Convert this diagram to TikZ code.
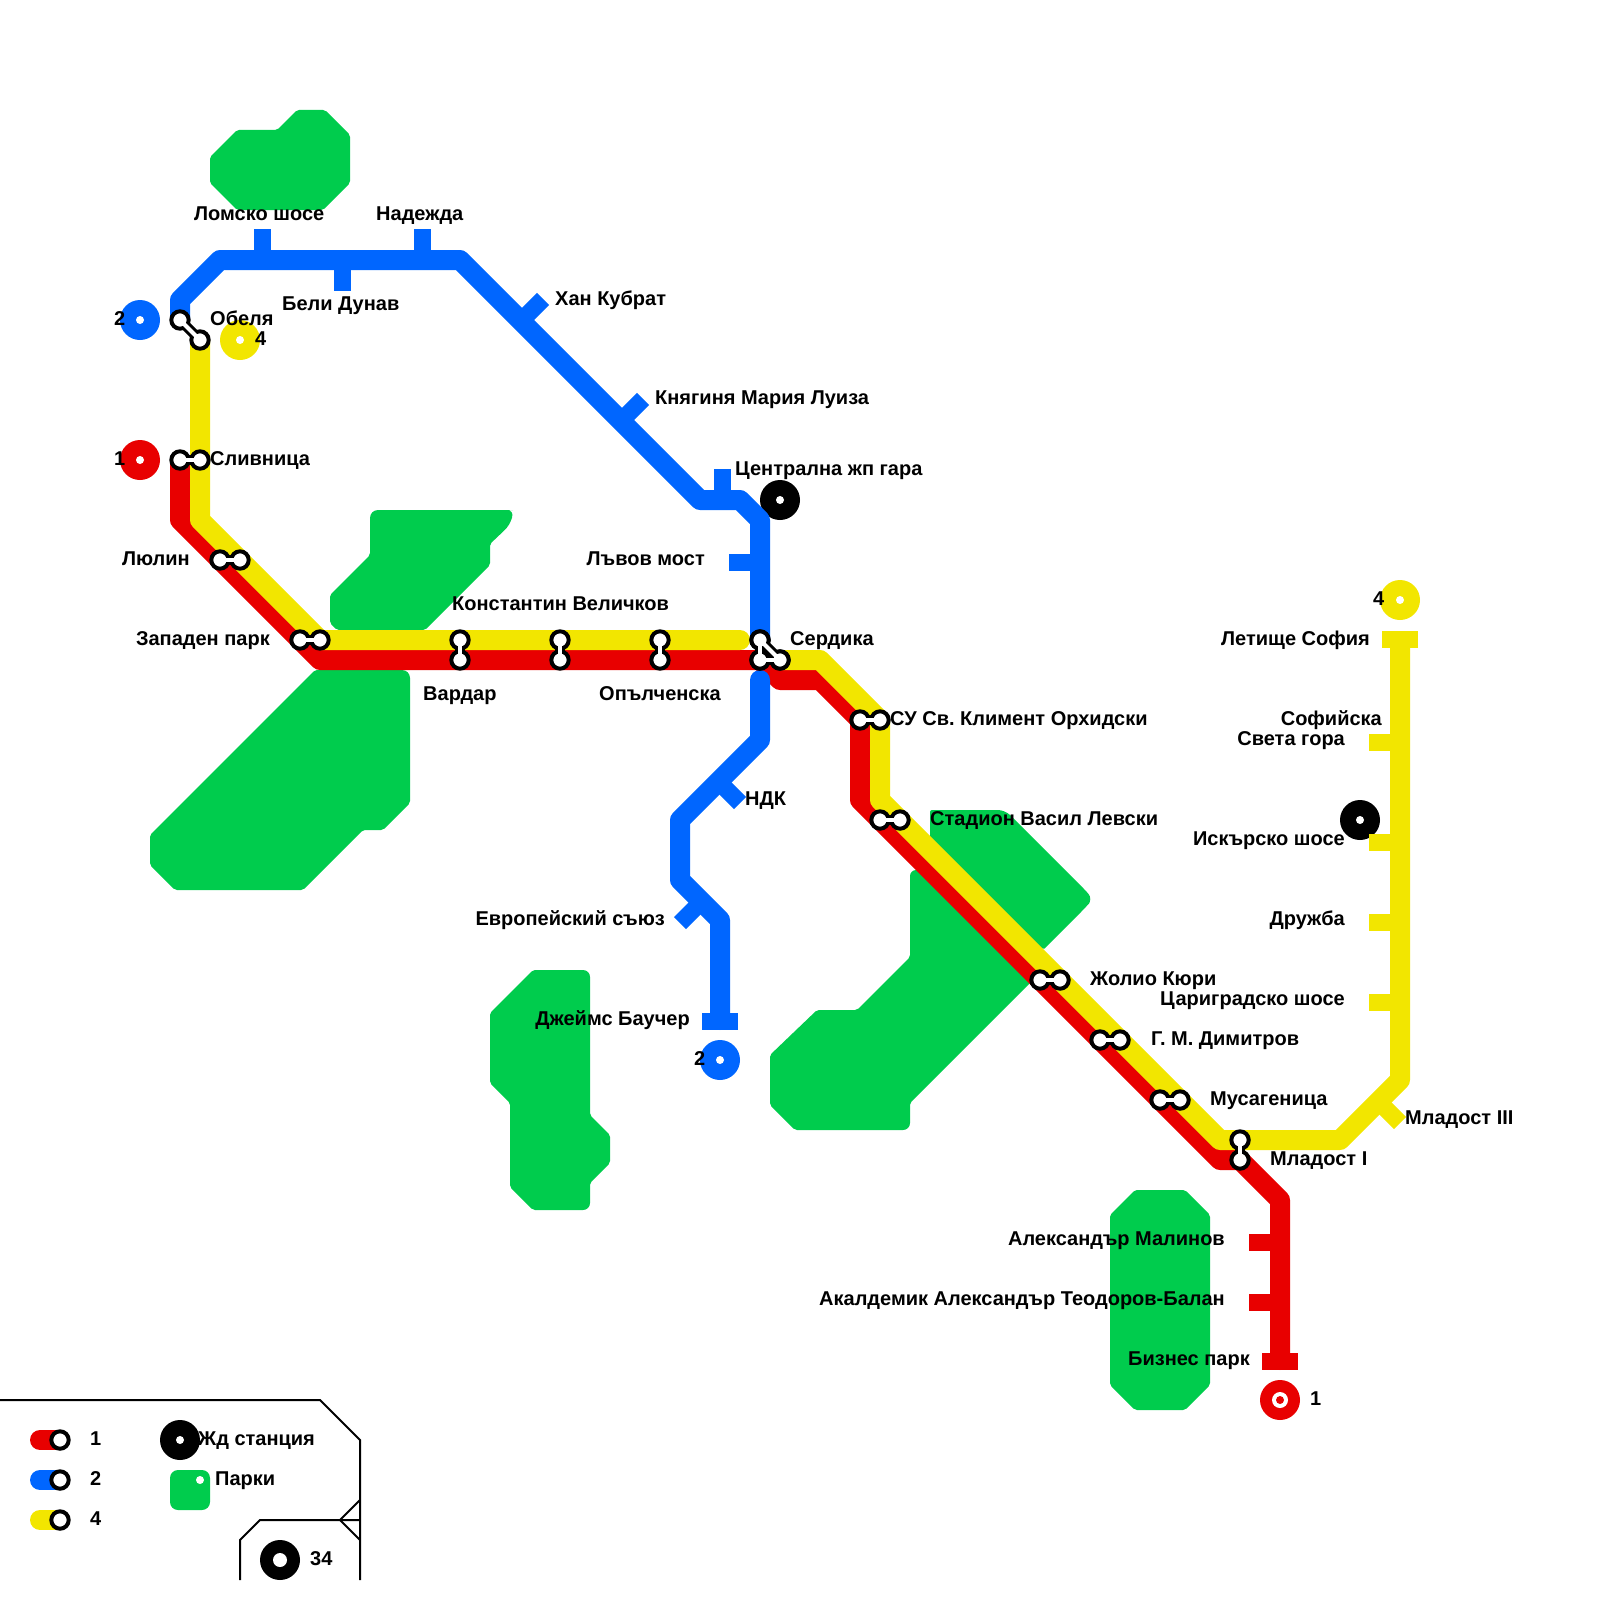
\documentclass[tikz,border=0pt]{standalone}
\usepackage{fontspec}
\setmainfont{Liberation Sans}
\usepackage{tikz}
\definecolor{l1c}{HTML}{E80000}
\definecolor{l2c}{HTML}{0066FF}
\definecolor{l4c}{HTML}{F2E600}
\definecolor{parkc}{HTML}{00CC4D}
\newcommand{\stnpairs}{slivR/slivY,lyulR/lyulY,zapR/zapY,varY/varR,serdY/serdR,oplY/oplR,
  serT/serL,serL/serR,serT/serR,obB/obY,suR/suY,levR/levY,jolR/jolY,dimR/dimY,musR/musY,mlaY/mlaR}
\frenchspacing

\begin{document}
\begin{tikzpicture}[
  x=1pt,y=-1pt,
  route/.style={line width=20pt,line cap=round,line join=round},
  tick/.style={line width=17pt},
  park/.style={fill=parkc,rounded corners=2pt},
  disc/.style={fill=#1},
  linkout/.style={black,line width=10pt},
  linkin/.style={white,line width=4pt},
  ring/.style={draw=black,fill=white,line width=4pt},
  lbl/.style={font=\fontsize{20}{24}\selectfont\bfseries,inner sep=0pt,anchor=base west},
  lblr/.style={lbl,anchor=base east},
  frame/.style={line width=2pt}]
\useasboundingbox (0,0) rectangle (1600,1600);
% parks
\fill[park] (210,157) -- (237,130) -- (277,130) -- (297,110) -- (325,110) -- (350,135) -- (350,183) -- (323,210) -- (237,210) -- (210,183) -- cycle;
\fill[park] (370,530) [rounded corners=8pt] -- (370,510) -- (505,510) [rounded corners=7pt] -- (514,510) -- (510,525) [rounded corners=2pt] -- (490,544) -- (490,565) -- (425,630) -- (337,630) -- (330,623) -- (330,595) -- (370,555) -- cycle;
\fill[park] (315,670) [rounded corners=8pt] -- (410,670) [rounded corners=2pt] -- (410,803) -- (383,830) -- (363,830) -- (303,890) -- (175,890) -- (150,865) -- (150,835) -- cycle;
\fill[park] (533,970) [rounded corners=7pt] -- (590,970) [rounded corners=2pt] -- (590,1115) -- (610,1135) -- (610,1163) -- (590,1183) [rounded corners=7pt] -- (590,1210) [rounded corners=2pt] -- (533,1210) -- (510,1187) -- (510,1103) -- (490,1083) -- (490,1013) -- cycle;
\fill[park] (930,810) [rounded corners=7pt] -- (1005,810) [rounded corners=2pt] -- (1085,890) [rounded corners=7pt] -- (1093,899) -- (1085,908) [rounded corners=2pt] -- (1043,950) -- (930,850) -- cycle;
\fill[park] (910,882) [rounded corners=6pt] -- (910,870) -- (928,870) [rounded corners=2pt] -- (1035,975) -- (1033,980) -- (910,1103) [rounded corners=7pt] -- (910,1130) [rounded corners=2pt] -- (795,1130) -- (770,1105) -- (770,1055) -- (817,1010) -- (857,1010) -- (910,957) -- cycle;
\fill[park] (1135,1190) -- (1185,1190) -- (1210,1215) -- (1210,1385) -- (1185,1410) -- (1135,1410) -- (1110,1385) -- (1110,1215) -- cycle;
% stations and bends
\foreach \name/\x/\y in {obB/180/320,obY/200/340,slivR/180/460,slivY/200/460,lyulR/220/560,lyulY/240/560,
  zapR/300/640,zapY/320/640,varY/460/640,varR/460/660,serdY/560/640,serdR/560/660,oplY/660/640,oplR/660/660,
  serT/760/640,serL/760/660,serR/780/660,suR/860/720,suY/880/720,levR/880/820,levY/900/820,
  jolR/1040/980,jolY/1060/980,dimR/1100/1040,dimY/1120/1040,musR/1160/1100,musY/1180/1100,mlaY/1240/1140,mlaR/1240/1160,
  b1/180/300,b2/220/260,b3/460/260,b4/700/500,b5/740/500,b6/760/520,b7/760/680,b8/760/740,b9/680/820,b10/680/880,b11/720/920,b12/720/1020,
  r1/180/520,r2/320/660,r3/780/680,r4/820/680,r5/860/800,r6/1220/1160,r7/1280/1200,r8/1280/1360,
  y1/200/520,y2/320/640,y3/740/640,y4/820/660,y5/880/800,y6/1220/1140,y7/1340/1140,y8/1400/1080,y9/1400/641}
  \coordinate (\name) at (\x,\y);
% termini
\fill[disc=l2c] (140,320) circle (20pt);
\fill[disc=l4c] (240,340) circle (20pt);
\fill[disc=l1c] (140,460) circle (20pt);
\fill[disc=l2c] (720,1060) circle (20pt);
\fill[disc=l4c] (1400,600) circle (20pt);
\fill[disc=l1c] (1280,1400) circle (20pt);
\fill[disc=black] (780,500) circle (20pt);
\fill[disc=black] (1360,820) circle (20pt);
\fill[white] (1280,1400) circle (8pt);
\fill[l1c] (1280,1400) circle (4pt);
\foreach \x/\y in {140/320,240/340,140/460,720/1060,1400/600,780/500,1360/820}
  \fill[white] (\x,\y) circle (4pt);
% lines
\draw[route,l1c] (slivR) -- (r1) -- (r2) -- (serL) -- (r3) -- (r4) -- (suR) -- (r5) -- (r6) -- (mlaR) -- (r7) -- (r8);
\draw[route,l2c] (obB) -- (b1) -- (b2) -- (b3) -- (b4) -- (b5) -- (b6) -- (serT);
\draw[route,l2c] (b7) -- (b8) -- (b9) -- (b10) -- (b11) -- (b12);
\draw[route,l4c] (obY) -- (y1) -- (y2) -- (y3);
\draw[route,l4c] (serR) -- (y4) -- (suY) -- (y5) -- (y6) -- (y7) -- (y8) -- (y9);
% ticks
\foreach \p/\q in {262/229,422/229,342/291}
  \draw[tick,l2c] (\p,260) -- (\p,\q);
\draw[tick,l2c] (521,321) -- (543,299);
\draw[tick,l2c] (621,421) -- (643,399);
\draw[tick,l2c] (722,500) -- (722,469);
\draw[tick,l2c] (760,562) -- (729,562);
\draw[tick,l2c] (718,781) -- (740,803);
\draw[tick,l2c] (702,901) -- (680,923);
\draw[tick,l2c] (702,1021.5) -- (738,1021.5);
\foreach \q in {1242.5,1302.5}
  \draw[tick,l1c] (1280,\q) -- (1249,\q);
\draw[tick,l1c] (1262,1361.5) -- (1298,1361.5);
\draw[tick,l4c] (1382,639) -- (1418,639);
\foreach \q in {742,842,922.5,1002}
  \draw[tick,l4c] (1400,\q) -- (1369,\q);
\draw[tick,l4c] (1378,1101) -- (1400,1123);
% interchanges
\foreach \a/\b in \stnpairs
  \draw[linkout] (\a) -- (\b);
\foreach \a/\b in \stnpairs
  \draw[ring] (\a) circle (8.7pt) (\b) circle (8.7pt);
\foreach \a/\b in \stnpairs
  \draw[linkin] (\a) -- (\b);
% labels
\node[lbl] (lomsko) at (194,220) {Ломско шосе};
\node[lbl] (nadezhda) at (376,220) {Надежда};
\node[lbl] (beli) at (282,310) {Бели Дунав};
\node[lbl] (obelya) at (210,325) {Обеля};
\node[lbl] (n2a) at (114,325) {2};
\node[lbl] (n4a) at (255,345) {4};
\node[lbl] (n1a) at (114,465) {1};
\node[lbl] (slivnitsa) at (210,465) {Сливница};
\node[lblr] (lyulin) at (190,565) {Люлин};
\node[lblr] (zapaden) at (270,645) {Западен парк};
\node[lbl] (konst) at (452,610) {Константин Величков};
\node[lbl] (vardar) at (423,700) {Вардар};
\node[lbl] (opalch) at (599,700) {Опълченска};
\node[lbl] (khan) at (555,305) {Хан Кубрат};
\node[lbl] (knyag) at (655,404) {Княгиня Мария Луиза};
\node[lbl] (tsentr) at (735,475) {Централна жп гара};
\node[lblr] (lavov) at (705,565) {Лъвов мост};
\node[lbl] (serdika) at (790,645) {Сердика};
\node[lbl] (su) at (890,725) {СУ Св. Климент Орхидски};
\node[lbl] (ndk) at (745,805) {НДК};
\node[lbl] (levski) at (930,825) {Стадион Васил Левски};
\node[lbl] (jolio) at (1090,985) {Жолио Кюри};
\node[lbl] (dimitrov) at (1151,1045) {Г. М. Димитров};
\node[lbl] (musa) at (1210,1105) {Мусагеница};
\node[lbl] (mlad1) at (1270,1165) {Младост I};
\node[lbl] (mlad3) at (1405,1124) {Младост III};
\node[lblr] (malinov) at (1225,1245) {Александър Малинов};
\node[lblr] (balan) at (1225,1305) {Акалдемик Александър Теодоров-Балан};
\node[lblr] (biznes) at (1250,1365) {Бизнес парк};
\node[lbl] (n1b) at (1310,1405) {1};
\node[lblr] (baucher) at (690,1025) {Джеймс Баучер};
\node[lbl] (n2b) at (694,1065) {2};
\node[lblr] (evro) at (665,925) {Европейский съюз};
\node[lblr] (letishte) at (1370,645) {Летище София};
\node[lblr] (sofiyska) at (1382,725) {Софийска};
\node[lblr] (sveta) at (1345,745) {Света гора};
\node[lblr] (iskar) at (1345,845) {Искърско шосе};
\node[lblr] (druzhba) at (1345,925) {Дружба};
\node[lblr] (tsarigrad) at (1345,1005) {Цариградско шосе};
\node[lbl] (n4b) at (1373,605) {4};
% legend
\draw[frame] (0,1400) -- (320,1400) -- (360,1440) -- (360,1580);
\draw[frame] (240,1580) -- (240,1540) -- (260,1520) -- (360,1520);
\draw[frame] (360,1500) -- (340,1520) -- (360,1540);
\foreach \c/\y/\t in {l1c/1440/1,l2c/1480/2,l4c/1520/4} {
  \draw[route,\c] (40,\y) -- (60,\y);
  \draw[ring] (60,\y) circle (8.7pt);
  \node[lbl] (key\t) at (90,\y+5) {\t};
}
\fill[disc=black] (180,1440) circle (20pt);
\fill[white] (180,1440) circle (4pt);
\node[lbl] (keyrail) at (198,1445) {Жд станция};
\fill[parkc,rounded corners=8pt] (170,1470) rectangle (210,1510);
\fill[white] (200,1480) circle (4pt);
\node[lbl] (keypark) at (215,1485) {Парки};
\fill[disc=black] (280,1560) circle (20pt);
\fill[white] (280,1560) circle (7pt);
\node[lbl] (keynum) at (310,1565) {34};
\end{tikzpicture}
\end{document}
